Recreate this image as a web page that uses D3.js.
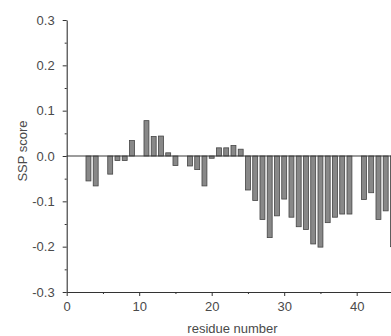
<!DOCTYPE html>
<html>
<head>
<meta charset="utf-8">
<script src="https://cdn.jsdelivr.net/npm/d3@7"></script>
<style>
  html, body { margin: 0; padding: 0; background: #fff; }
  svg { display: block; }
  text { font-family: "Liberation Sans", Arial, Helvetica, sans-serif; }
</style>
</head>
<body>
<svg id="chart" width="391" height="336"></svg>
<script>
// Secondary structure propensity per residue (residues with no score are omitted)
const residues = [3, 4, 6, 7, 8, 9, 11, 12, 13, 14, 15, 17, 18, 19, 20, 21, 22, 23, 24,
  25, 26, 27, 28, 29, 30, 31, 32, 33, 34, 35, 36, 37, 38, 39, 41, 42, 43, 44, 45];
const sspScores = [-0.055, -0.066, -0.040, -0.010, -0.010, 0.034, 0.078, 0.043, 0.044, 0.007, -0.021,
  -0.022, -0.030, -0.066, -0.005, 0.018, 0.018, 0.023, 0.015,
  -0.075, -0.098, -0.140, -0.180, -0.132, -0.095, -0.135, -0.156, -0.162, -0.194, -0.201,
  -0.147, -0.135, -0.128, -0.128, -0.096, -0.081, -0.140, -0.121, -0.200];
const yTicks = [-0.3, -0.2, -0.1, 0.0, 0.1, 0.2, 0.3];
const yMinorTicks = [-0.25, -0.15, -0.05, 0.05, 0.15, 0.25];
const xTicks = [0, 10, 20, 30, 40];
const xMinorTicks = [5, 15, 25, 35, 45];

const svg = d3.select("#chart");
const plotLeft = 66.7, plotTop = 20, plotBottom = 292;

const x = d3.scaleLinear().domain([0, 60]).range([plotLeft, plotLeft + 7.25 * 60]);
const y = d3.scaleLinear().domain([-0.3, 0.3]).range([plotBottom, plotTop]);

const axisColor = "#333";
const textColor = "#4a4a4a";
const barW = x(0.68) - x(0);

// bars
svg.append("g")
  .selectAll("rect")
  .data(residues.map((r, i) => ({ r, v: sspScores[i] })))
  .join("rect")
  .attr("x", d => x(d.r) - barW / 2)
  .attr("width", barW)
  .attr("y", d => y(Math.max(0, d.v)))
  .attr("height", d => Math.abs(y(d.v) - y(0)))
  .attr("fill", "#888")
  .attr("stroke", "#454545")
  .attr("stroke-width", 0.8);

// zero line
svg.append("line")
  .attr("x1", plotLeft).attr("x2", 391)
  .attr("y1", y(0)).attr("y2", y(0))
  .attr("stroke", "#3a3a3a").attr("stroke-width", 1.1);

function styleAxis(g) {
  g.select(".domain").attr("stroke", axisColor).attr("stroke-width", 1.1);
  g.selectAll(".tick line").attr("stroke", axisColor);
  g.selectAll(".tick text").attr("fill", textColor).attr("font-size", 13);
}

// y axis
const gy = svg.append("g").attr("transform", `translate(${plotLeft},0)`)
  .call(d3.axisLeft(y).tickValues(yTicks).tickSize(4).tickPadding(8)
    .tickFormat(d => d3.format(".1f")(d).replace("\u2212", "-")).tickSizeOuter(0));
styleAxis(gy);

const gyMinor = svg.append("g").attr("transform", `translate(${plotLeft},0)`)
  .call(d3.axisLeft(y).tickValues(yMinorTicks).tickSize(2).tickFormat(""));
gyMinor.select(".domain").remove();
gyMinor.selectAll(".tick line").attr("stroke", axisColor);

// x axis
const gx = svg.append("g").attr("transform", `translate(0,${plotBottom})`)
  .call(d3.axisBottom(x).tickValues(xTicks).tickSize(4).tickPadding(6).tickSizeOuter(0));
styleAxis(gx);

const gxMinor = svg.append("g").attr("transform", `translate(0,${plotBottom})`)
  .call(d3.axisBottom(x).tickValues(xMinorTicks).tickSize(2).tickFormat(""));
gxMinor.select(".domain").remove();
gxMinor.selectAll(".tick line").attr("stroke", axisColor);

// axis titles
svg.append("text")
  .attr("transform", "translate(27,151) rotate(-90)")
  .attr("text-anchor", "middle")
  .attr("font-size", 13)
  .attr("fill", textColor)
  .text("SSP score");

svg.append("text")
  .attr("x", 232.5).attr("y", 333)
  .attr("text-anchor", "middle")
  .attr("font-size", 13)
  .attr("fill", textColor)
  .text("residue number");
</script>
</body>
</html>
